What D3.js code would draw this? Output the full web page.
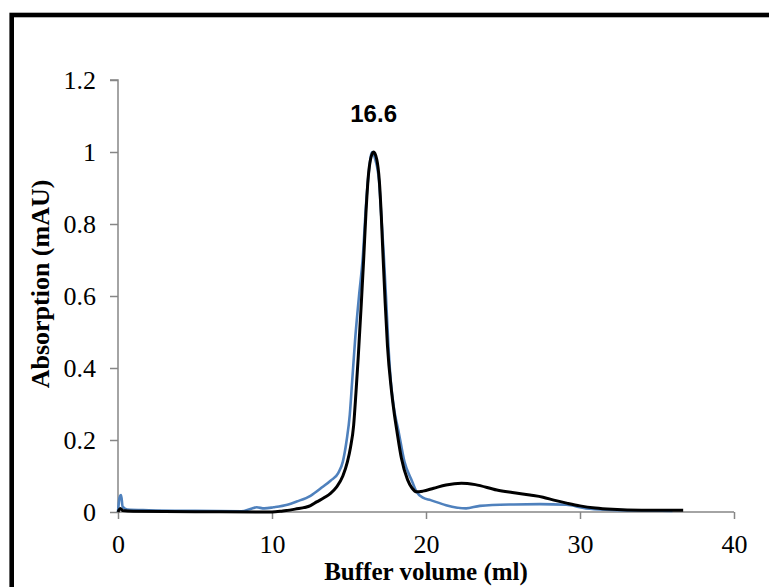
<!DOCTYPE html>
<html><head><meta charset="utf-8">
<script src="https://cdn.jsdelivr.net/npm/d3@7"></script>
<style>html,body{margin:0;padding:0;background:#fff;}svg{display:block;}</style>
</head><body>
<svg id="c" width="769" height="587"></svg>
<script>
const xTicks = [0, 10, 20, 30, 40];
const yTicks = [0, 0.2, 0.4, 0.6, 0.8, 1, 1.2];
const yTickLabels = ["0", "0.2", "0.4", "0.6", "0.8", "1", "1.2"];
const peakLabel = "16.6";
const peakX = 16.6;
const xTitle = "Buffer volume (ml)";
const yTitle = "Absorption (mAU)";

const blackX = [0,0.15,0.3,1,5,9,10,10.7,11.5,12.5,12.9,13.4,13.8,14.2,14.6,14.9,15.1,15.3,15.45,15.6,15.8,15.95,16.1,16.25,16.4,16.6,16.8,16.97,17.1,17.2,17.35,17.5,17.75,17.95,18.1,18.4,18.8,19.1,19.4,19.8,20.5,21.3,22.3,23.2,24.6,25.6,26.75,27.6,28.3,29.2,30,31,32.1,34,36.7];
const blackY = [0,0.01,0.004,0.002,0.001,0,0,0.003,0.008,0.018,0.028,0.04,0.052,0.07,0.1,0.14,0.18,0.24,0.33,0.43,0.58,0.7,0.83,0.93,0.98,1.0,0.98,0.92,0.82,0.72,0.58,0.46,0.34,0.27,0.228,0.15,0.09,0.066,0.056,0.058,0.066,0.075,0.08,0.076,0.061,0.054,0.047,0.041,0.033,0.024,0.017,0.011,0.0074,0.005,0.005];

const blueX = [0,0.1,0.2,0.3,0.6,2,5,8,8.7,9.0,9.5,10.1,11,11.6,12.5,13.3,13.8,14.3,14.6,14.85,15.05,15.2,15.4,15.65,15.9,16.1,16.3,16.5,16.7,16.95,17.1,17.25,17.4,17.55,17.7,17.95,18.2,18.6,19.1,19.4,19.8,20.3,21.3,22.6,23.5,25.7,27.4,29.1,30.4,32,34,36];
const blueY = [0,0.04,0.047,0.015,0.007,0.005,0.003,0.002,0.01,0.013,0.01,0.013,0.02,0.029,0.045,0.07,0.087,0.108,0.14,0.2,0.27,0.36,0.48,0.6,0.71,0.85,0.95,1.0,0.98,0.92,0.82,0.72,0.6,0.47,0.37,0.28,0.228,0.14,0.085,0.055,0.04,0.033,0.019,0.01,0.017,0.021,0.022,0.02,0.01,0.006,0.004,0.003];

const svg = d3.select("#c");
// outer frame
svg.append("rect").attr("x", 11.7).attr("y", 15).attr("width", 820).attr("height", 620)
  .attr("fill", "none").attr("stroke", "#000").attr("stroke-width", 4.6);

const x = d3.scaleLinear().domain([0, 40]).range([118, 734]);
const y = d3.scaleLinear().domain([0, 1.2]).range([512, 80]);

const axisColor = "#868686";
const serif = "'Liberation Serif','Times New Roman',serif";

// y axis
const gy = svg.append("g").attr("transform", "translate(118,0)")
  .call(d3.axisLeft(y).tickValues(yTicks).tickSize(8).tickPadding(14)
    .tickFormat((d, i) => yTickLabels[i]));
gy.select(".domain").attr("stroke", axisColor).attr("stroke-width", 1.5).attr("d", "M-8,80H0V512");
gy.selectAll(".tick line").attr("stroke", axisColor).attr("stroke-width", 1.5);
gy.selectAll(".tick text").attr("font-family", serif).attr("font-size", 26).attr("fill", "#000");

// x axis
const gx = svg.append("g").attr("transform", "translate(0,512)")
  .call(d3.axisBottom(x).tickValues(xTicks).tickSize(7).tickPadding(16).tickFormat(d3.format("d")));
gx.select(".domain").attr("stroke", axisColor).attr("stroke-width", 1.5).attr("d", "M118,0H734");
gx.selectAll(".tick line").attr("stroke", axisColor).attr("stroke-width", 1.5);
gx.selectAll(".tick text").attr("font-family", serif).attr("font-size", 26).attr("fill", "#000");

const line = d3.line().x(d => x(d[0])).y(d => y(d[1])).curve(d3.curveMonotoneX);
const blue = blueX.map((v, i) => [v, blueY[i]]);
const black = blackX.map((v, i) => [v, blackY[i]]);

svg.append("path").attr("d", line(blue)).attr("fill", "none")
  .attr("stroke", "#4f81bd").attr("stroke-width", 2.6).attr("stroke-linejoin", "round");
svg.append("path").attr("d", line(black)).attr("fill", "none")
  .attr("stroke", "#000").attr("stroke-width", 3).attr("stroke-linejoin", "round");

// peak label
svg.append("text").attr("x", x(peakX)).attr("y", 122).attr("text-anchor", "middle")
  .attr("font-family", "'Liberation Sans',Arial,sans-serif").attr("font-weight", "bold")
  .attr("font-size", 24).text(peakLabel);

// axis titles
svg.append("text").attr("x", 426).attr("y", 580).attr("text-anchor", "middle")
  .attr("font-family", serif).attr("font-weight", "bold").attr("font-size", 25).text(xTitle);
svg.append("text").attr("transform", "translate(49,284) rotate(-90)").attr("text-anchor", "middle")
  .attr("font-family", serif).attr("font-weight", "bold").attr("font-size", 26).text(yTitle);
</script>
</body></html>
